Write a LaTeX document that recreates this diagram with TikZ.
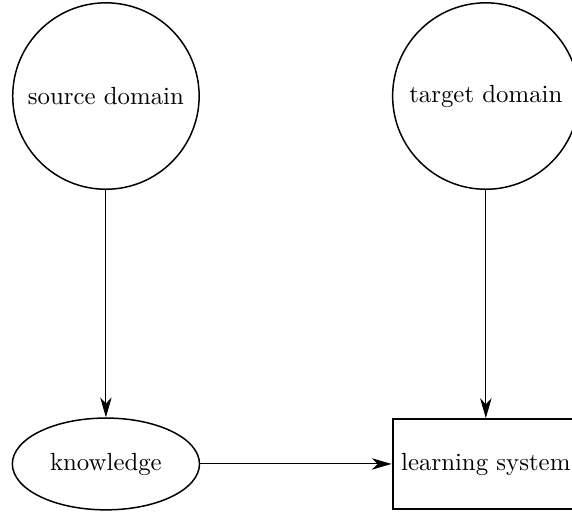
\documentclass[tikz,border=0pt]{standalone}
\usetikzlibrary{shapes.geometric, arrows.meta}

\begin{document}
\begin{tikzpicture}[>={Stealth[length=8pt, width=4.6pt, inset=2.4pt]},
    domnode/.style={draw, semithick, circle, minimum size=2.64cm, inner sep=0pt},
    knownode/.style={draw, semithick, ellipse, minimum width=2.65cm, minimum height=1.30cm, inner sep=0pt},
    learnnode/.style={draw, thick, rectangle, minimum width=2.64cm, minimum height=1.27cm, inner sep=0pt}]
    \useasboundingbox (-1.50,-0.69) rectangle (6.60,6.57);

    % nodes
    \node[domnode] (src) at (0,5.21) {source domain};
    \node[domnode] (tgt) at (5.38,5.21) {target domain};
    \node[knownode] (kn) at (0,0) {knowledge};
    \node[learnnode] (ls) at (5.38,0) {learning system};

    % arrows
    \draw[->] (src) -- (kn);
    \draw[->] (tgt) -- (ls);
    \draw[->] (kn) -- (ls);
\end{tikzpicture}
\end{document}
